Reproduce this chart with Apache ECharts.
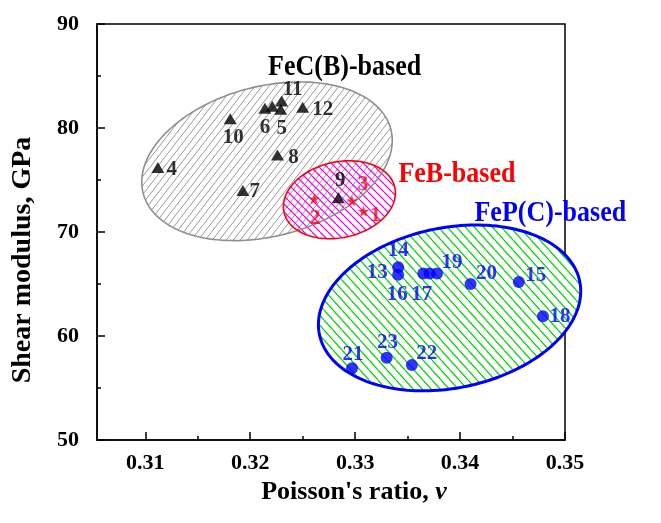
<!DOCTYPE html>
<html>
<head>
<meta charset="utf-8">
<script src="https://cdn.jsdelivr.net/npm/echarts@6/dist/echarts.min.js"></script>
<style>
  html, body { margin: 0; padding: 0; background: #fff; }
  #chart { width: 661px; height: 523px; }
</style>
</head>
<body>
<div id="chart"></div>
<script>
// Axis ranges and tick values
const xMin = 0.3054, xMax = 0.35;
const yMin = 50, yMax = 90;
const xMajorTicks = [0.31, 0.32, 0.33, 0.34, 0.35];
const xMinorTicks = [0.315, 0.325, 0.335, 0.345];

// FeB-based alloys (stars)
const febIds = ['1', '2', '3'];
const febPoisson = [0.3308, 0.3261, 0.3297];
const febShear = [72.0, 73.2, 73.0];

// FeC(B)-based alloys (triangles)
const fecIds = ['4', '5', '6', '7', '8', '9', '10', '11', '12', ''];
const fecPoisson = [0.3112, 0.3229, 0.3214, 0.3193, 0.3226, 0.3284, 0.3181, 0.3230, 0.3250, 0.3221];
const fecShear = [76.2, 81.8, 81.9, 74.0, 77.4, 73.3, 80.9, 82.6, 82.0, 82.1];

// FeP(C)-based alloys (circles)
const fepIds = ['13', '14', '15', '16', '17', '18', '19', '20', '21', '22', '23'];
const fepPoisson = [0.3341, 0.3341, 0.3456, 0.3365, 0.3371, 0.3479, 0.3378, 0.3410, 0.3297, 0.3354, 0.3330];
const fepShear = [65.9, 66.6, 65.2, 66.0, 66.0, 61.9, 66.0, 65.0, 56.9, 57.2, 57.9];

// Composition regions: centre, semi-axes (x in Poisson units, y in GPa), tilt in degrees
const regionNames = ['FeC(B)-based', 'FeB-based', 'FeP(C)-based'];
const regionCenterX = [0.3216, 0.3285, 0.3390];
const regionCenterY = [76.8, 73.1, 62.7];
const regionSemiX = [0.01219, 0.00541, 0.01266];
const regionSemiY = [7.21, 3.64, 7.71];
const regionTilt = [14.5, 12.6, 11.5];
const regionLabelX = [0.3290, 0.3397, 0.3486];
const regionLabelY = [85.8, 75.5, 71.8];

// Label offsets (px) for the sample numbers
const labelOffset = {
  '1': [12, 4], '2': [1, 20], '3': [11, -16],
  '4': [14, 2], '5': [1, 19], '6': [0, 19], '7': [12, 1], '8': [16, 3],
  '9': [2, -17], '10': [3, 19], '11': [11, -11], '12': [20, 2],
  '13': [-21, -2], '14': [0, -17], '15': [17, -6], '16': [-26, 21], '17': [-8, 21],
  '18': [17, 0], '19': [15, -11], '20': [16, -10], '21': [1, -14], '22': [15, -12], '23': [1, -15]
};

const serif = '"Liberation Serif", "Times New Roman", serif';

// Diagonal hatch tile: one line corner to corner of a w x h cell
function hatch(color, w, h, width, dir) {
  const c = document.createElement('canvas');
  c.width = w; c.height = h;
  const g = c.getContext('2d');
  g.strokeStyle = color;
  g.lineWidth = width;
  g.beginPath();
  for (let k = -1; k <= 1; k++) {
    if (dir === '/') { g.moveTo(k * w, h); g.lineTo(k * w + w, 0); }
    else { g.moveTo(k * w, 0); g.lineTo(k * w + w, h); }
  }
  g.stroke();
  return { image: c, repeat: 'repeat' };
}

const regionStyle = [
  { stroke: '#8f8f8f', lineWidth: 1.6, fill: hatch('#9a9a9a', 7, 9, 1, '/'), base: '#fff', text: '#000' },
  { stroke: '#ff0000', lineWidth: 1.6, fill: hatch('#ff00ff', 8, 8, 1.3, '\\'), base: null, text: '#ff0000' },
  { stroke: '#0000ff', lineWidth: 3, fill: hatch('#00dd00', 9, 10, 1.3, '\\'), base: '#fff', text: '#0000ff' }
];

function ellipsePoints(api, i) {
  const c = api.coord([regionCenterX[i], regionCenterY[i]]);
  const a = api.size([regionSemiX[i], 0])[0];
  const b = api.size([0, regionSemiY[i]])[1];
  const t = regionTilt[i] * Math.PI / 180;
  const pts = [];
  for (let k = 0; k < 180; k++) {
    const s = k / 180 * Math.PI * 2;
    const ex = a * Math.cos(s), ey = b * Math.sin(s);
    pts.push([c[0] + ex * Math.cos(t) + ey * Math.sin(t), c[1] - ex * Math.sin(t) + ey * Math.cos(t)]);
  }
  return pts;
}

const regionData = regionNames.map((n, i) => [regionCenterX[i], regionCenterY[i], i]);

function points(ids, xs, ys) {
  return ids.map((id, i) => ({
    value: [xs[i], ys[i]],
    name: id,
    label: { offset: labelOffset[id] || [0, 0] }
  }));
}

function numberLabel(color) {
  return {
    show: true,
    position: 'inside',
    formatter: p => p.name,
    color: color,
    fontFamily: serif,
    fontWeight: 'bold',
    fontSize: 21,
    align: 'center',
    verticalAlign: 'middle'
  };
}

const starPath = 'path://M50,0 L61.8,35.1 L97.6,34.5 L69,56 L79.4,90.5 L50,70 L20.6,90.5 L31,56 L2.4,34.5 L38.2,35.1 Z';

const chart = echarts.init(document.getElementById('chart'), null, { renderer: 'canvas' });
chart.setOption({
  animation: false,
  backgroundColor: '#fff',
  grid: { left: 97, right: 96, top: 24, bottom: 83, show: true, borderColor: '#000', borderWidth: 1.5, backgroundColor: 'transparent' },
  xAxis: [
    {
      type: 'value', min: xMin, max: xMax, position: 'bottom',
      axisLine: { lineStyle: { color: '#000', width: 1.5 } },
      axisTick: { inside: true, length: 8, customValues: xMajorTicks, lineStyle: { color: '#000', width: 1.5 } },
      axisLabel: {
        customValues: xMajorTicks, formatter: v => v.toFixed(2), margin: 12,
        color: '#000', fontFamily: serif, fontWeight: 'bold', fontSize: 22
      },
      splitLine: { show: false },
      name: "Poisson's ratio, {v|ν}",
      nameLocation: 'middle', nameGap: 38,
      nameTextStyle: {
        color: '#000', fontFamily: serif, fontWeight: 'bold', fontSize: 26, padding: [0, 0, 0, 46],
        rich: { v: { fontFamily: serif, fontWeight: 'bold', fontStyle: 'italic', fontSize: 26, color: '#000' } }
      }
    },
    {
      type: 'value', min: xMin, max: xMax, position: 'bottom',
      axisLine: { show: false },
      axisTick: { inside: true, length: 4, customValues: xMinorTicks, lineStyle: { color: '#000', width: 1.5 } },
      axisLabel: { show: false },
      splitLine: { show: false }
    }
  ],
  yAxis: {
    type: 'value', min: yMin, max: yMax, interval: 10,
    axisLine: { show: true, lineStyle: { color: '#000', width: 1.5 } },
    axisTick: { inside: true, length: 8, lineStyle: { color: '#000', width: 1.5 } },
    minorTick: { show: true, splitNumber: 2, length: 4, lineStyle: { color: '#000', width: 1.5 } },
    axisLabel: { margin: 18, color: '#000', fontFamily: serif, fontWeight: 'bold', fontSize: 22 },
    splitLine: { show: false },
    name: 'Shear modulus, GPa',
    nameLocation: 'middle', nameGap: 60,
    nameTextStyle: { color: '#000', fontFamily: serif, fontWeight: 'bold', fontSize: 28, padding: [0, 56, 0, 0] }
  },
  series: [
    {
      type: 'custom',
      name: 'regions-fill',
      data: regionData,
      z: 3,
      renderItem: (params, api) => {
        const i = api.value(2);
        const pts = ellipsePoints(api, i);
        const children = [];
        if (regionStyle[i].base) {
          children.push({ type: 'polygon', shape: { points: pts }, style: { fill: regionStyle[i].base, stroke: null } });
        }
        children.push({ type: 'polygon', shape: { points: pts }, style: { fill: regionStyle[i].fill, stroke: null } });
        return { type: 'group', children: children };
      }
    },
    {
      type: 'custom',
      name: 'regions-outline',
      data: regionData,
      z: 4,
      renderItem: (params, api) => {
        const i = api.value(2);
        const lp = api.coord([regionLabelX[i], regionLabelY[i]]);
        return {
          type: 'group',
          children: [
            { type: 'polygon', shape: { points: ellipsePoints(api, i) }, style: { fill: null, stroke: regionStyle[i].stroke, lineWidth: regionStyle[i].lineWidth } },
            { type: 'text', x: lp[0], y: lp[1], scaleY: 1.12, style: { text: regionNames[i], fill: regionStyle[i].text, font: 'bold 26px ' + serif, align: 'center', verticalAlign: 'middle' } }
          ]
        };
      }
    },
    {
      type: 'scatter', name: 'FeC(B)-based', z: 5,
      symbol: 'triangle', symbolSize: [13, 11],
      itemStyle: { color: '#000' },
      label: numberLabel('#000'),
      data: points(fecIds, fecPoisson, fecShear)
    },
    {
      type: 'scatter', name: 'FeB-based', z: 5,
      symbol: starPath, symbolSize: 11,
      itemStyle: { color: '#ff0000' },
      label: numberLabel('#ff0000'),
      data: points(febIds, febPoisson, febShear)
    },
    {
      type: 'scatter', name: 'FeP(C)-based', z: 5,
      symbol: 'circle', symbolSize: 12,
      itemStyle: { color: '#0000ff' },
      label: numberLabel('#0000ff'),
      data: points(fepIds, fepPoisson, fepShear)
    }
  ]
});
</script>
</body>
</html>
